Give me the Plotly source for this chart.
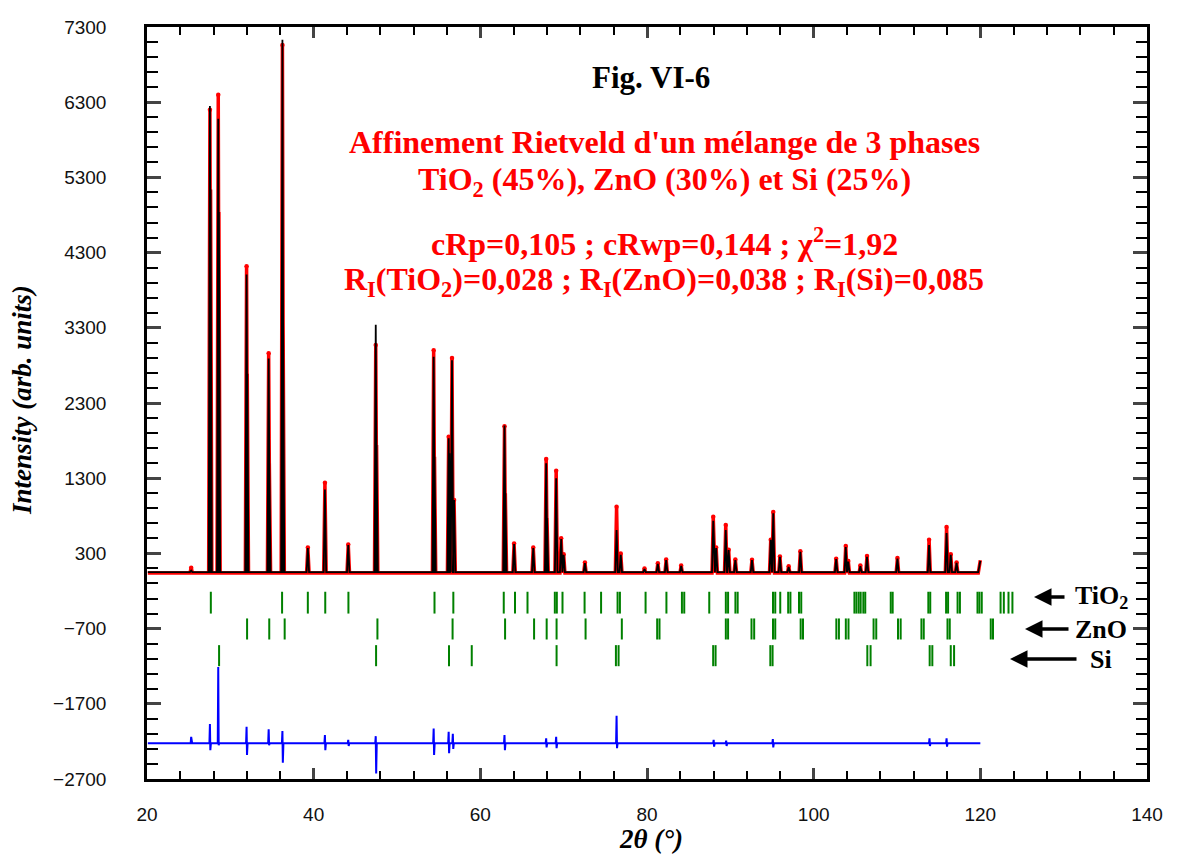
import plotly.graph_objects as go

# ---------------- data ----------------
# Profile peaks: 2theta (deg), calculated intensity, observed intensity
peak_2theta = [25.3, 27.55, 28.55, 31.95, 34.6, 36.25, 39.3, 41.35, 44.15, 47.45,
               54.4, 56.2, 56.6, 56.85, 62.9, 64.05, 66.35, 67.9, 69.1, 69.7,
               70.0, 72.55, 76.35, 76.85, 79.7, 81.3, 82.3, 84.1, 87.95, 88.3,
               89.45, 89.8, 90.6, 92.6, 94.85, 95.15, 95.95, 97.0, 98.4, 102.7,
               103.85, 104.15, 105.6, 106.4, 110.05, 113.85, 115.95, 116.45, 117.15]
calc_int = [70, 6250, 6080, 4010, 2890, 7130, 370, 1150, 410, 3340,
            2915, 1830, 2870, 1010, 2000, 424, 370, 1500, 1300, 490,
            280, 170, 610, 280, 90, 160, 210, 135, 734, 370,
            610, 344, 210, 210, 480, 835, 255, 120, 320, 224,
            384, 190, 130, 255, 230, 410, 570, 280, 175]
obs_int = [110, 6200, 6400, 4120, 2960, 7060, 380, 1240, 420, 3070,
           3000, 1850, 2900, 1010, 1990, 430, 380, 1555, 1400, 500,
           290, 180, 920, 300, 100, 170, 220, 140, 787, 380,
           677, 350, 220, 215, 480, 850, 260, 130, 330, 230,
           400, 200, 140, 265, 240, 480, 650, 290, 180]
# K-alpha2 shoulders (thick lower part of the strong peaks)
shoulder_2theta = [27.63, 28.63, 32.03, 34.68, 36.33, 47.55, 54.5, 56.3, 63.0, 68.0]
shoulder_int = [5140, 4840, 2690, 1500, 3400, 1740, 1585, 1630, 1100, 770]
background_calc = 50
background_obs = 40
scan_start, scan_end = 20.1, 120.0
end_intensity = 210

# Difference curve spikes: 2theta, upper value, lower value
diff_2theta = [25.3, 27.55, 28.55, 31.95, 34.6, 36.25, 41.35, 44.15, 47.45, 54.4,
               56.2, 56.7, 62.9, 67.9, 69.1, 76.35, 88.0, 89.5, 95.1, 113.9, 115.95]
diff_up = [-2140, -1970, -1210, -2006, -2040, -2063, -2116, -2180, -2130, -2028,
           -2072, -2100, -2116, -2160, -2140, -1860, -2180, -2190, -2170, -2160, -2160]
diff_down = [-2225, -2316, -2250, -2380, -2250, -2485, -2316, -2260, -2626, -2380,
             -2356, -2300, -2316, -2280, -2290, -2290, -2270, -2260, -2280, -2260, -2270]
diff_base = -2225

# Bragg reflection positions (2theta) for each phase
tio2_refl = [27.66, 36.21, 39.30, 41.39, 44.17, 54.50, 56.76, 62.81, 64.16, 65.66,
             68.94, 69.18, 69.86, 72.51, 74.49, 76.47, 76.75, 79.83, 82.33, 84.19,
             84.47, 87.47, 89.46, 89.73, 90.61, 90.88, 95.12, 95.39, 95.99, 96.94,
             97.21, 98.24, 98.51, 104.89, 105.13, 105.40, 105.64, 105.96, 106.19,
             109.25, 109.48, 113.76, 113.99, 115.89, 116.13, 117.27, 117.55,
             119.66, 119.89, 120.17, 122.43, 122.82, 123.38, 123.85]
zno_refl = [32.01, 34.67, 36.52, 47.65, 56.67, 62.97, 66.45, 67.96, 69.15, 72.63,
            76.98, 81.22, 81.50, 89.46, 89.73, 92.54, 92.86, 95.12, 95.39, 98.44,
            98.72, 102.72, 103.03, 103.86, 104.18, 107.19, 107.51, 110.12, 110.44,
            112.93, 113.21, 116.06, 116.33, 121.25, 121.52]
si_refl = [28.65, 47.49, 56.24, 58.97, 69.15, 76.27, 76.59, 87.94, 88.23, 94.80,
           95.07, 106.44, 106.83, 113.92, 114.24, 116.45, 116.85]
tick_rows = {"TiO2": (-210, -500), "ZnO": (-565, -845), "Si": (-920, -1200)}

x_ticks = [20, 40, 60, 80, 100, 120, 140]
y_ticks = [-2700, -1700, -700, 300, 1300, 2300, 3300, 4300, 5300, 6300, 7300]

# ---------------- build traces ----------------
HW = 0.15


def profile(pos, hts, base, end_val):
    xs, ys = [scan_start], [base]
    for p, h in sorted(zip(pos, hts)):
        xs += [p - HW, p, p + HW]
        ys += [base, h, base]
    xs += [scan_end - 0.25, scan_end]
    ys += [base, end_val]
    return xs, ys


ox, oy = profile(peak_2theta + shoulder_2theta, obs_int + shoulder_int,
                 background_obs, end_intensity)
cx, cy = profile(peak_2theta + shoulder_2theta, calc_int + shoulder_int,
                 background_calc, end_intensity - 10)

dx, dy = [scan_start], [diff_base]
for p, u, d in zip(diff_2theta, diff_up, diff_down):
    dx += [p - 0.06, p, p + 0.05, p + 0.12]
    dy += [diff_base, u, d, diff_base]
dx.append(scan_end)
dy.append(diff_base)

fig = go.Figure()
fig.add_trace(go.Scatter(x=ox, y=oy, mode="lines", line=dict(color="#ff0000", width=3.5),
                         hoverinfo="skip", showlegend=False))
fig.add_trace(go.Scatter(x=peak_2theta, y=obs_int, mode="markers",
                         marker=dict(color="#ff0000", size=4.5), showlegend=False))
fig.add_trace(go.Scatter(x=cx, y=cy, mode="lines", line=dict(color="#000000", width=1.8),
                         showlegend=False))

refl_sets = [("TiO2", tio2_refl), ("ZnO", zno_refl), ("Si", si_refl)]
for name, refl in refl_sets:
    top, bot = tick_rows[name]
    xs, ys = [], []
    for r in refl:
        xs += [r, r, None]
        ys += [top, bot, None]
    fig.add_trace(go.Scatter(x=xs, y=ys, mode="lines", line=dict(color="#008000", width=2),
                             showlegend=False, name=name))

fig.add_trace(go.Scatter(x=dx, y=dy, mode="lines", line=dict(color="#0000ff", width=2),
                         showlegend=False))

# ---------------- layout ----------------
# page body has an 8px margin; figure sized so the page fits the 1178x864 window
OFF = 8
W, H = 1162, 848
L, R, T, B = 147 - OFF, OFF + W - 1147, 27 - OFF, OFF + H - 779
pw, ph = W - L - R, H - T - B


def px(xp):
    return (xp - OFF - L) / pw


def py(yp):
    return (OFF + H - B - yp) / ph


serif = "Liberation Serif, Times New Roman, serif"
annots = []
annots.append(dict(x=px(651), y=py(77), xref="paper", yref="paper", showarrow=False,
                   xanchor="center", yanchor="middle",
                   text="<b>Fig. VI-6</b>", font=dict(family=serif, size=31, color="black")))
red_lines = [
    (142, "<b>Affinement Rietveld d'un mélange de 3 phases</b>"),
    (182, "<b>TiO<sub>2</sub> (45%), ZnO (30%) et Si (25%)</b>"),
    (242, "<b>cRp=0,105 ; cRwp=0,144 ; χ<sup>2</sup>=1,92</b>"),
    (281, "<b>R<sub>I</sub>(TiO<sub>2</sub>)=0,028 ; R<sub>I</sub>(ZnO)=0,038 ; R<sub>I</sub>(Si)=0,085</b>"),
]
for yy, t in red_lines:
    annots.append(dict(x=px(664), y=py(yy), xref="paper", yref="paper", showarrow=False,
                       xanchor="center", yanchor="middle",
                       text=t, font=dict(family=serif, size=32, color="#ff0000")))

labels = [("TiO<sub>2</sub>", 1101, 597, 1066, 1034),
          ("ZnO", 1101, 629, 1070, 1025),
          ("Si", 1101, 659, 1078, 1010)]
for t, lx, ly, ax0, ax1 in labels:
    annots.append(dict(x=px(lx), y=py(ly), xref="paper", yref="paper", showarrow=False,
                       xanchor="center", yanchor="middle",
                       text="<b>" + t + "</b>", font=dict(family=serif, size=26, color="black")))
    annots.append(dict(x=px(ax1), y=py(ly), xref="paper", yref="paper", showarrow=True,
                       ax=ax0 - ax1, ay=0, axref="pixel", ayref="pixel", text="",
                       arrowhead=2, arrowsize=1.0, arrowwidth=3.5, arrowcolor="black"))

# axis titles
annots.append(dict(x=px(651), y=py(839), xref="paper", yref="paper", showarrow=False,
                   xanchor="center", yanchor="middle",
                   text="<b><i>2θ (°)</i></b>", font=dict(family=serif, size=27, color="black")))
annots.append(dict(x=px(22), y=py(400), xref="paper", yref="paper", showarrow=False,
                   xanchor="center", yanchor="middle", textangle=-90,
                   text="<b><i>Intensity (arb. units)</i></b>",
                   font=dict(family=serif, size=27, color="black")))

fig.update_layout(
    width=W, height=H,
    margin=dict(l=L, r=R, t=T, b=B, autoexpand=False),
    paper_bgcolor="white", plot_bgcolor="white",
    annotations=annots,
    xaxis=dict(range=[20, 140], tickvals=x_ticks, ticks="inside", ticklen=11, tickwidth=2.5,
               mirror="allticks", showline=True, linecolor="black", linewidth=2.5,
               showgrid=False, zeroline=False, automargin=False,
               tickfont=dict(family="Liberation Sans, Arial", size=19, color="#111"),
               ticklabelstandoff=16,
               minor=dict(dtick=4, tick0=20, ticks="inside", ticklen=8, tickwidth=1.5,
                          tickcolor="black", showgrid=False)),
    yaxis=dict(range=[-2700, 7300], tickvals=y_ticks, ticks="inside", ticklen=14, tickwidth=2.5,
               mirror="allticks", showline=True, linecolor="black", linewidth=2.5,
               showgrid=False, zeroline=False, automargin=False,
               tickfont=dict(family="Liberation Sans, Arial", size=19, color="#111"),
               ticklabelstandoff=34,
               minor=dict(dtick=200, tick0=-2700, ticks="inside", ticklen=11, tickwidth=1.5,
                          tickcolor="black", showgrid=False)),
)

fig.write_html("out.html")
